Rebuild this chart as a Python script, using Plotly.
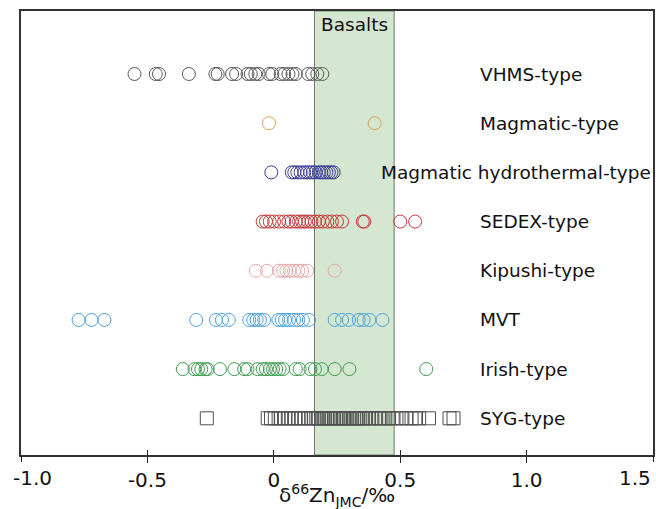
import plotly.graph_objects as go

# Deposit types, listed top to bottom
deposit_types = ["VHMS-type", "Magmatic-type", "Magmatic hydrothermal-type", "SEDEX-type",
                 "Kipushi-type", "MVT", "Irish-type", "SYG-type"]

# δ66Zn (JMC, ‰) for each deposit type
vhms = [-0.551, -0.467, -0.454, -0.336, -0.231, -0.222, -0.165, -0.149, -0.104, -0.091,
        -0.073, -0.06, -0.019, -0.006, 0.027, 0.041, 0.058, 0.074, 0.087, 0.136, 0.152,
        0.172, 0.192]
magmatic = [-0.019, 0.399]
magmatic_hydro = [-0.01, 0.071, 0.081, 0.093, 0.106, 0.12, 0.132, 0.144, 0.154, 0.165,
                  0.178, 0.188, 0.198, 0.208, 0.218, 0.228, 0.237]
sedex = [-0.044, -0.031, -0.016, 0.001, 0.021, 0.041, 0.058, 0.071, 0.087, 0.1, 0.112,
         0.123, 0.136, 0.149, 0.163, 0.178, 0.194, 0.212, 0.23, 0.25, 0.27, 0.352, 0.358,
         0.5, 0.559]
kipushi = [-0.071, -0.027, 0.021, 0.037, 0.05, 0.063, 0.08, 0.097, 0.112, 0.132, 0.241]
mvt = [-0.772, -0.721, -0.67, -0.307, -0.229, -0.205, -0.178, -0.097, -0.081, -0.068,
       -0.055, -0.038, 0.018, 0.031, 0.045, 0.06, 0.08, 0.097, 0.115, 0.139, 0.241, 0.27,
       0.297, 0.336, 0.355, 0.378, 0.43]
irish = [-0.36, -0.314, -0.3, -0.287, -0.27, -0.262, -0.213, -0.156, -0.117, -0.104,
         -0.064, -0.044, -0.031, -0.016, -0.003, 0.01, 0.023, 0.037, 0.087, 0.102, 0.145,
         0.163, 0.189, 0.241, 0.299, 0.603]
syg = [-0.265, -0.024, -0.011, 0.004, 0.019, 0.029, 0.044, 0.059, 0.069, 0.084, 0.098,
       0.108, 0.123, 0.138, 0.148, 0.158, 0.168, 0.178, 0.188, 0.193, 0.203, 0.213, 0.223,
       0.228, 0.238, 0.247, 0.252, 0.262, 0.272, 0.277, 0.287, 0.297, 0.307, 0.317, 0.327,
       0.332, 0.342, 0.352, 0.361, 0.376, 0.386, 0.401, 0.416, 0.426, 0.441, 0.456, 0.47,
       0.485, 0.505, 0.525, 0.545, 0.56, 0.575, 0.614, 0.695, 0.711]

# Basalt reference range (‰)
basalt_range = [0.161, 0.476]

x_tickvals = [-1.0, -0.5, 0.0, 0.5, 1.0, 1.5]
x_ticktext = ["-1.0", "-0.5", "0", "0.5", "1.0", "1.5"]

series = [vhms, magmatic, magmatic_hydro, sedex, kipushi, mvt, irish, syg]
colors = ["#5a5a5a", "#dd9f55", "#3d3d95", "#c23a3a", "#e9a9a9", "#4aa3e0", "#3f9e52", "#505050"]
symbols = ["circle-open"] * 7 + ["square-open"]

FONT = "DejaVu Sans, Arial, sans-serif"
LABEL_X = 0.808          # left edge of the type labels
LABEL_X_LONG = 0.415     # the long label starts further left
n = len(deposit_types)

fig = go.Figure()

for i, (name, vals, col, sym) in enumerate(zip(deposit_types, series, colors, symbols)):
    ypos = n - i
    fig.add_trace(go.Scatter(
        x=vals, y=[ypos] * len(vals), mode="markers", name=name,
        marker=dict(symbol=sym, size=13, color=col, line=dict(width=1, color=col)),
        showlegend=False, hoverinfo="x+name",
    ))
    lx = LABEL_X_LONG if len(name) > 20 else LABEL_X
    fig.add_annotation(x=lx, y=ypos, xref="x", yref="y", text=name, showarrow=False,
                       xanchor="left", yanchor="middle",
                       font=dict(family=FONT, size=18.5, color="#111"))

# Basalt field
fig.add_shape(type="rect", xref="x", yref="paper", x0=basalt_range[0], x1=basalt_range[1],
              y0=0, y1=1, fillcolor="#d5e6d1", line=dict(color="#6f7a6c", width=1),
              layer="below")
fig.add_annotation(x=sum(basalt_range) / 2, y=1, xref="x", yref="paper", text="Basalts",
                   showarrow=False, xanchor="center", yanchor="top", yshift=-1,
                   font=dict(family=FONT, size=18.5, color="#111"))

# end tick labels are kept inside the canvas
tick_font = dict(family=FONT, size=20, color="#111")
fig.add_annotation(x=x_tickvals[0], y=0, xref="x", yref="paper", text=x_ticktext[0],
                   showarrow=False, xanchor="left", yanchor="top", yshift=-9, xshift=-10,
                   font=tick_font)
fig.add_annotation(x=x_tickvals[-1], y=0, xref="x", yref="paper", text=x_ticktext[-1],
                   showarrow=False, xanchor="right", yanchor="top", yshift=-9,
                   font=tick_font)

# x-axis title
fig.add_annotation(x=0.5, y=0, xref="paper", yref="paper", yshift=-56, yanchor="bottom",
                   text="δ<sup>66</sup>Zn<sub>JMC</sub>/‰", showarrow=False, borderpad=0,
                   font=dict(family=FONT, size=20, color="#111"))

fig.update_layout(
    width=656, height=509,
    margin=dict(l=21, r=1, t=11, b=54),
    paper_bgcolor="white", plot_bgcolor="white",
    font=dict(family=FONT, size=18, color="#111"),
    xaxis=dict(range=[-1.0, 1.5], tickvals=x_tickvals[1:-1], ticktext=x_ticktext[1:-1],
               ticks="outside", ticklen=6, tickwidth=1.2, tickcolor="#222",
               showline=True, linecolor="#333", linewidth=1.5, mirror=True,
               showgrid=False, zeroline=False, tickfont=tick_font),
    xaxis2=dict(range=[-1.0, 1.5], tickvals=x_tickvals, overlaying="x", matches="x",
                side="bottom", ticks="inside", ticklen=5, tickwidth=1.2, tickcolor="#222",
                showticklabels=False, showgrid=False, zeroline=False, showline=False),
    xaxis3=dict(range=[-1.0, 1.5], tickvals=[x_tickvals[0], x_tickvals[-1]], overlaying="x",
                matches="x", side="bottom", ticks="outside", ticklen=6, tickwidth=1.2,
                tickcolor="#222", showticklabels=False, showgrid=False, zeroline=False,
                showline=False),
    yaxis=dict(range=[0.254, 9.281], showticklabels=False, ticks="", showgrid=False,
               zeroline=False, showline=True, linecolor="#333", linewidth=1.5, mirror=True),
)

# invisible traces to activate the extra tick axes
for ax in ("x2", "x3"):
    fig.add_trace(go.Scatter(x=[0], y=[1], xaxis=ax, mode="markers",
                             marker=dict(opacity=0), showlegend=False, hoverinfo="skip"))

fig.write_html("out.html")
